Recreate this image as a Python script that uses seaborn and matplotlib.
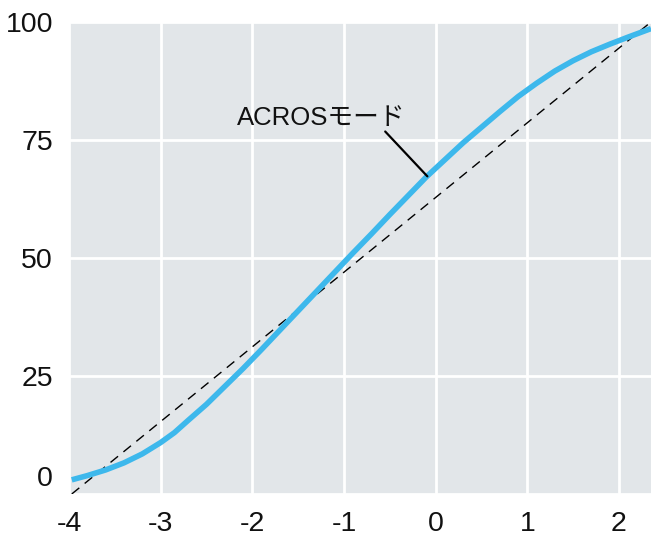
#! /usr/bin/env python
# ACROS tone curve, redrawn with seaborn

import matplotlib
matplotlib.use("Agg")
import matplotlib.pyplot as plt
from matplotlib.transforms import ScaledTranslation
import pandas as pd
import seaborn as sns

# curve values (exposure step, output level)
curve_x = [-3.97, -3.8, -3.6, -3.4, -3.2, -3.0, -2.85, -2.7, -2.5, -2.3, -2.1,
           -1.9, -1.7, -1.5, -1.3, -1.1, -0.9, -0.7, -0.5, -0.3, -0.1,
           0.1, 0.3, 0.5, 0.7, 0.9, 1.1, 1.3, 1.5, 1.7, 1.9, 2.1, 2.35]
curve_y = [3.0, 3.9, 5.1, 6.6, 8.5, 10.9, 13.0, 15.6, 19.0, 22.8, 26.6,
           30.6, 34.7, 38.8, 42.9, 47.0, 51.1, 55.1, 59.2, 63.2, 67.2,
           70.8, 74.4, 77.7, 81.0, 84.2, 87.0, 89.6, 91.8, 93.7, 95.3, 96.8, 98.6]

# straight reference line, corner to corner
ref_x = [-3.97, 2.35]
ref_y = [0, 100]

x_ticks = [-4, -3, -2, -1, 0, 1, 2]
y_ticks = [0, 25, 50, 75, 100]

label_text = "ACROSモード"
label_pos = (-1.25, 78.2)
leader_from = (-0.55, 76.8)
leader_to = (-0.09, 67.3)

blue = "#3DB8EC"

sns.set_theme(style="darkgrid", rc={
    "axes.facecolor": "#E2E6E9",
    "grid.color": "white",
    "grid.linewidth": 2.0,
    "axes.unicode_minus": False,
})
plt.rcParams["font.family"] = ["Liberation Sans", "Noto Sans CJK JP", "DejaVu Sans"]

fig = plt.figure(figsize=(6.68, 5.37), dpi=100)
ax = fig.add_axes([69 / 668, 43 / 537, 582 / 668, 472 / 537])

df = pd.DataFrame({"x": curve_x, "y": curve_y})
ref = pd.DataFrame({"x": ref_x, "y": ref_y})

sns.lineplot(data=ref, x="x", y="y", ax=ax, color="black", linewidth=1.0,
             dashes=False, zorder=2)
ax.lines[-1].set_dashes((7, 5))
sns.lineplot(data=df, x="x", y="y", ax=ax, color=blue, linewidth=4,
             zorder=3, solid_joinstyle="round", solid_capstyle="butt")

ax.annotate("", xy=leader_to, xytext=leader_from,
            arrowprops=dict(arrowstyle="-", color="black", lw=1.6,
                            shrinkA=0, shrinkB=0), zorder=4)
ax.text(label_pos[0], label_pos[1], label_text, fontsize=18.5,
        ha="center", va="baseline", color="#111111")

ax.set_xlim(ref_x[0], ref_x[1])
ax.set_ylim(0, 100)
ax.set_xticks(x_ticks)
ax.set_yticks(y_ticks)
ax.set_xlabel("")
ax.set_ylabel("")
ax.tick_params(axis="both", length=0, labelsize=20.5, colors="#111111")
ax.tick_params(axis="x", pad=12)
ax.tick_params(axis="y", pad=11.5)
for s in ax.spines.values():
    s.set_visible(False)

# the 0 label sits a bit higher than its gridline
lab0 = ax.get_yticklabels()[0]
lab0.set_transform(lab0.get_transform() + ScaledTranslation(0, 18 / 100, fig.dpi_scale_trans))

fig.savefig("out.png", dpi=100)
